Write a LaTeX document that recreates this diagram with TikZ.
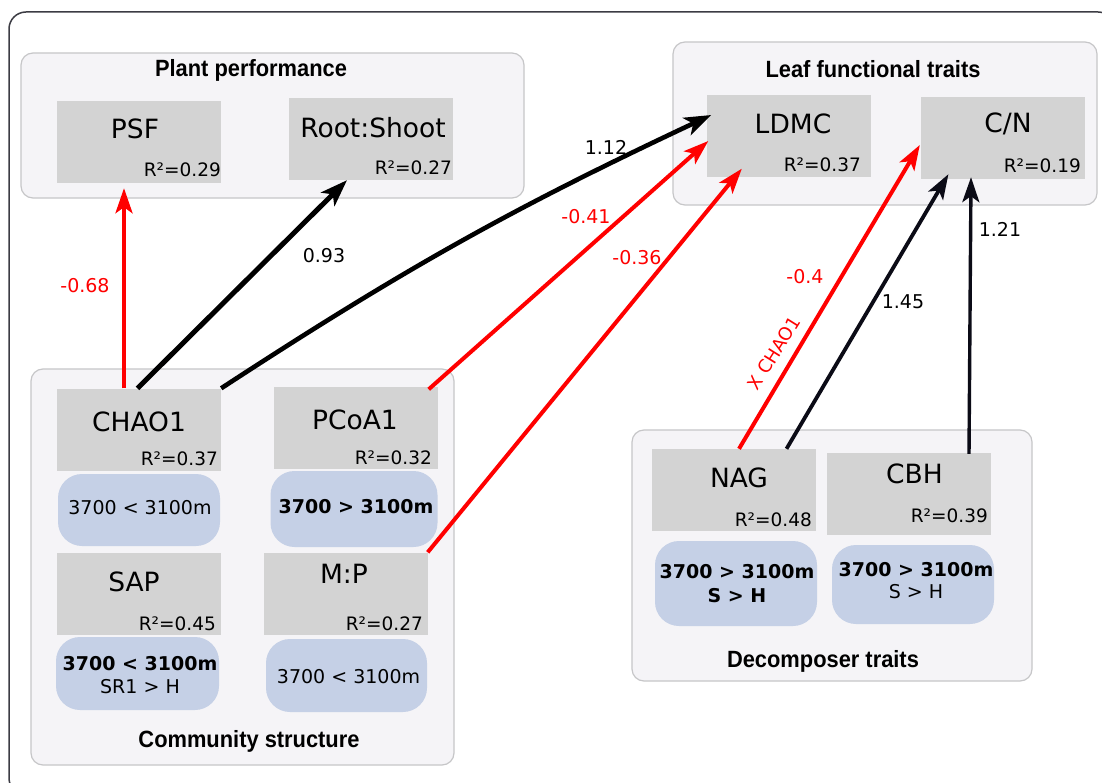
\documentclass[tikz,border=0pt]{standalone}
\usepackage{fontspec}
\setmainfont{DejaVu Sans}
\newfontfamily\titlefont[FakeStretch=0.93]{Liberation Sans}
\usetikzlibrary{arrows.meta,calc}
\definecolor{grpfill}{HTML}{F5F4F7}
\definecolor{grpdraw}{HTML}{C6C6C8}
\definecolor{boxgray}{HTML}{D3D3D3}
\definecolor{boxblue}{HTML}{C5D0E6}
\definecolor{arrred}{HTML}{FF0000}
\definecolor{arrdark}{HTML}{0B0B16}
\definecolor{framecol}{HTML}{3C3C44}
\tikzset{
  grp/.style={fill=grpfill, draw=grpdraw, line width=1.2pt, rounded corners=12pt, inner sep=0pt},
  gbox/.style={fill=boxgray, inner sep=0pt, minimum width=164pt, minimum height=82pt},
  bbox/.style={fill=boxblue, inner sep=0pt, rounded corners=24pt, minimum width=162pt},
  ttl/.style={inner sep=0pt, anchor=base, font=\titlefont\bfseries\fontsize{23.5}{26}\selectfont},
  nm/.style={inner sep=0pt, anchor=base, font=\fontsize{26.5}{30}\selectfont},
  rsq/.style={inner sep=0pt, anchor=base east, font=\fontsize{18.5}{22}\selectfont},
  btxt/.style={inner sep=0pt, anchor=base, align=center, font=\fontsize{19}{23}\selectfont},
  elab/.style={inner sep=0pt, font=\fontsize{19}{22}\selectfont},
  redarr/.style={draw=arrred, line width=4pt, -{Stealth[length=25pt,width=17pt,inset=6pt]}},
  blkarr/.style={draw=black, line width=4.6pt, -{Stealth[length=27pt,width=19pt,inset=7pt]}},
  darkarr/.style={draw=arrdark, line width=3.8pt, -{Stealth[length=25pt,width=17pt,inset=6pt]}},
}
\begin{document}
\begin{tikzpicture}[x=1pt,y=-1pt]
\useasboundingbox (0,0) rectangle (1102,783);
\fill[white] (0,0) rectangle (1102,783);
\draw[framecol, line width=1.5pt, rounded corners=17pt] (9,12) rectangle (1115,795);

% groups
\node[grp, minimum width=503pt, minimum height=145pt] (plantgrp) at (272.5,125.5) {};
\node[grp, minimum width=424pt, minimum height=163pt] (leafgrp) at (885,123.5) {};
\node[grp, minimum width=423pt, minimum height=396pt] (commgrp) at (242.5,567) {};
\node[grp, minimum width=400pt, minimum height=251pt] (decgrp) at (832,555.5) {};

\node[ttl] (plantttl) at (251,77) {Plant performance};
\node[ttl] (leafttl) at (873,78) {Leaf functional traits};
\node[ttl] (commttl) at (249,747) {Community structure};
\node[ttl] (decttl) at (823,667) {Decomposer traits};

% gray boxes
\node[gbox] (psf) at (139,142) {};
\node[gbox] (root) at (370.5,139) {};
\node[gbox] (ldmc) at (788.5,136.5) {};
\node[gbox] (cn) at (1003,138) {};
\node[gbox] (chao) at (139,429.5) {};
\node[gbox] (pcoa) at (355.5,427.5) {};
\node[gbox] (sap) at (139,593.5) {};
\node[gbox] (mp) at (345.5,593.5) {};
\node[gbox] (nag) at (733.5,490) {};
\node[gbox] (cbh) at (909,494) {};

\node[nm] (psft) at (135,139) {PSF};
\node[nm] (roott) at (373,138) {Root:Shoot};
\node[nm] (ldmct) at (793,134) {LDMC};
\node[nm] (cnt) at (1008,133) {C/N};
\node[nm] (chaot) at (139,431) {CHAO1};
\node[nm] (pcoat) at (355,429) {PCoA1};
\node[nm] (sapt) at (134,591) {SAP};
\node[nm] (mpt) at (344,583) {M:P};
\node[nm] (nagt) at (739,487) {NAG};
\node[nm] (cbht) at (914.5,483) {CBH};

\node[rsq] (psfr) at (221,177) {R²=0.29};
\node[rsq] (rootr) at (452,175) {R²=0.27};
\node[rsq] (ldmcr) at (861,172) {R²=0.37};
\node[rsq] (cnr) at (1081,173) {R²=0.19};
\node[rsq] (chaor) at (218,465) {R²=0.37};
\node[rsq] (pcoar) at (432,464) {R²=0.32};
\node[rsq] (sapr) at (216,630) {R²=0.45};
\node[rsq] (mpr) at (423,630) {R²=0.27};
\node[rsq] (nagr) at (812,526) {R²=0.48};
\node[rsq] (cbhr) at (988,522) {R²=0.39};

% blue boxes
\node[bbox, minimum height=72pt] (b1) at (139,510) {};
\node[bbox, minimum width=167pt, minimum height=76pt] (b2) at (354,509) {};
\node[bbox, minimum width=163pt, minimum height=73pt] (b3) at (137.5,673.5) {};
\node[bbox, minimum width=161pt, minimum height=73pt] (b4) at (346.5,675.5) {};
\node[bbox, minimum height=85pt] (b5) at (736,583.5) {};
\node[bbox, minimum height=79pt] (b6) at (913,584.5) {};

\node[btxt] (b1t) at (140,514) {3700 < 3100m};
\node[btxt] (b2t) at (356,513) {\bfseries 3700 > 3100m};
\node[btxt] (b3t) at (140,693) {\bfseries 3700 < 3100m\\SR1 > H};
\node[btxt] (b4t) at (348.6,683) {3700 < 3100m};
\node[btxt, font=\fontsize{19}{24}\selectfont] (b5t) at (737,602) {\bfseries 3700 > 3100m\\\bfseries S > H};
\node[btxt, font=\fontsize{19}{22}\selectfont] (b6t) at (916,598) {\bfseries 3700 > 3100m\\S > H};

% connectors
\draw[redarr] ($(chao.north)+(-15,0)$) -- ($(psf.south)+(-15,5)$);
\draw[blkarr, line width=5pt] ($(chao.north)+(-1.5,0)$) -- ($(root.south)+(-23.5,0)$);
\draw[blkarr] (chao.north east) to[bend left=4] ($(ldmc.west)+(5,-21.5)$);
\draw[redarr] ($(pcoa.north east)+(-9,3)$) -- ($(ldmc.west)+(2,4.5)$);
\draw[redarr] (mp.north east) -- ($(ldmc.south west)+(35.5,-9)$);
\draw[redarr] ($(nag.north)+(5.5,0)$) -- ($(cn.west)+(-1,7)$);
\draw[darkarr] ($(nag.north)+(53,0)$) -- ($(cn.south west)+(27.6,-5)$);
\draw[darkarr, line width=3.4pt] ($(cbh.north)+(60,1)$) -- ($(cn.south)+(-32,-2)$);

% labels
\node[elab, text=arrred] (l1) at (85,286) {-0.68};
\node[elab] (l2) at (324,256) {0.93};
\node[elab] (l3) at (606,147) {1.12};
\node[elab, text=arrred] (l4) at (586,217) {-0.41};
\node[elab, text=arrred] (l5) at (637,258) {-0.36};
\node[elab, text=arrred] (l6) at (805,277) {-0.4};
\node[elab] (l7) at (903,302) {1.45};
\node[elab] (l8) at (1000,229) {1.21};
\node[elab, text=arrred, rotate=58, font=\fontsize{18}{20}\selectfont] (l9) at (774,353) {X CHAO1};
\end{tikzpicture}
\end{document}
